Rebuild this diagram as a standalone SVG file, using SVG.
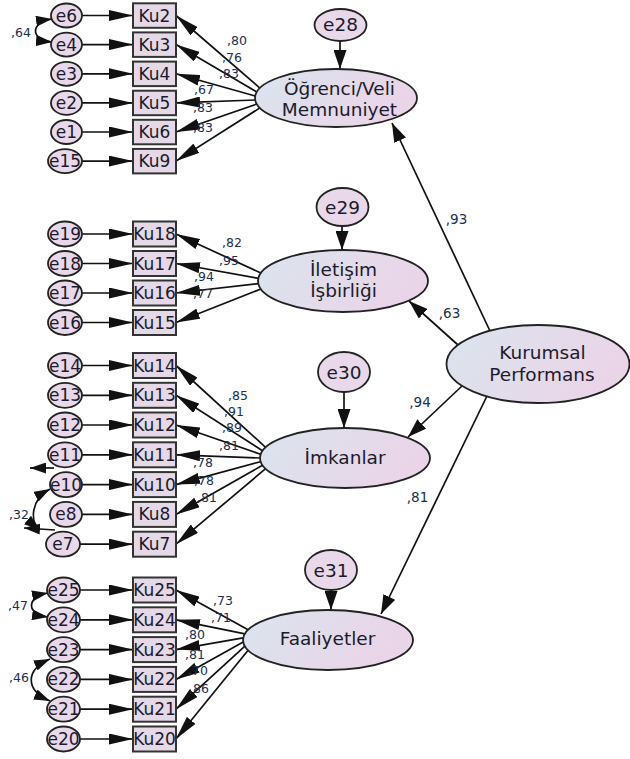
<svg xmlns="http://www.w3.org/2000/svg" width="630" height="759" viewBox="0 0 630 759">
<style>
.e{fill:#e8d8e9;stroke:#222;stroke-width:1.8}
.box{fill:#e5d9e8;stroke:#333;stroke-width:2}
.lat{fill:url(#g);stroke:#222;stroke-width:1.8}
.t{font-family:"DejaVu Sans",sans-serif;fill:#1b1b2b;text-anchor:middle}
.s17{font-size:17px}
.s18{font-size:18.5px}
.c{font-family:"DejaVu Sans",sans-serif;fill:#203050;text-anchor:middle;font-size:12.5px}
.cr{font-size:13.5px}
.ln{stroke:#111;stroke-width:1.7;fill:none}
</style>
<defs>
<linearGradient id="g" x1="0" y1="0" x2="1" y2="0.3">
<stop offset="0" stop-color="#dae5ee"/>
<stop offset="1" stop-color="#ead4e8"/>
</linearGradient>
<marker id="a" viewBox="0 0 24 11" refX="24" refY="5.5" markerWidth="24" markerHeight="11" markerUnits="userSpaceOnUse" orient="auto"><path d="M0,0 L24,5.5 L0,11 z" fill="#111"/></marker>
<marker id="b" viewBox="0 0 19 13" refX="19" refY="6.5" markerWidth="19" markerHeight="13" markerUnits="userSpaceOnUse" orient="auto"><path d="M0,0 L19,6.5 L0,13 z" fill="#111"/></marker>
<marker id="cv" viewBox="0 0 16 11" refX="16" refY="5.5" markerWidth="16" markerHeight="11" markerUnits="userSpaceOnUse" orient="auto-start-reverse"><path d="M0,0 L16,5.5 L0,11 z" fill="#111"/></marker>
</defs>
<rect width="630" height="759" fill="#fff"/>

<g id="connectors">
<g marker-end="url(#a)" class="ln">
<line x1="82" y1="15.5" x2="133" y2="15.5"/>
<line x1="82" y1="44.6" x2="133" y2="44.6"/>
<line x1="82" y1="73.8" x2="133" y2="73.8"/>
<line x1="82" y1="102.9" x2="133" y2="102.9"/>
<line x1="82" y1="132" x2="133" y2="132"/>
<line x1="82" y1="161.1" x2="133" y2="161.1"/>
<line x1="82" y1="234" x2="133" y2="234"/>
<line x1="82" y1="263.5" x2="133" y2="263.5"/>
<line x1="82" y1="293" x2="133" y2="293"/>
<line x1="82" y1="322.5" x2="133" y2="322.5"/>
<line x1="82" y1="365.5" x2="133" y2="365.5"/>
<line x1="82" y1="395.3" x2="133" y2="395.3"/>
<line x1="82" y1="425" x2="133" y2="425"/>
<line x1="82" y1="454.8" x2="133" y2="454.8"/>
<line x1="82" y1="484.6" x2="133" y2="484.6"/>
<line x1="82" y1="514.4" x2="133" y2="514.4"/>
<line x1="80" y1="544.2" x2="133" y2="544.2"/>
<line x1="80" y1="590" x2="133" y2="590"/>
<line x1="80" y1="619.8" x2="133" y2="619.8"/>
<line x1="80" y1="649.6" x2="133" y2="649.6"/>
<line x1="80" y1="679.4" x2="133" y2="679.4"/>
<line x1="80" y1="709.2" x2="133" y2="709.2"/>
<line x1="80" y1="739" x2="133" y2="739"/>
</g>
<g marker-end="url(#a)" class="ln">
<line x1="259.9" y1="88.1" x2="176" y2="15.5"/>
<line x1="256.8" y1="92" x2="176" y2="44.6"/>
<line x1="255.2" y1="96" x2="176" y2="73.8"/>
<line x1="255.2" y1="100" x2="176" y2="102.9"/>
<line x1="256.8" y1="104" x2="176" y2="132"/>
<line x1="259.9" y1="107.9" x2="176" y2="161.1"/>
<line x1="260.9" y1="273" x2="176" y2="234"/>
<line x1="258.3" y1="278.3" x2="176" y2="263.5"/>
<line x1="258.3" y1="283.7" x2="176" y2="293"/>
<line x1="260.9" y1="289" x2="176" y2="322.5"/>
<line x1="265.6" y1="447.3" x2="176" y2="365.5"/>
<line x1="262.5" y1="450.7" x2="176" y2="395.3"/>
<line x1="260.6" y1="454.3" x2="176" y2="425"/>
<line x1="260" y1="458" x2="176" y2="454.8"/>
<line x1="260.6" y1="461.7" x2="176" y2="484.6"/>
<line x1="262.5" y1="465.3" x2="176" y2="514.4"/>
<line x1="265.6" y1="468.7" x2="176" y2="544.2"/>
<line x1="248.1" y1="629.7" x2="176" y2="590"/>
<line x1="244.9" y1="633.8" x2="176" y2="619.8"/>
<line x1="243.2" y1="637.9" x2="176" y2="649.6"/>
<line x1="243.2" y1="642.1" x2="176" y2="679.4"/>
<line x1="244.9" y1="646.2" x2="176" y2="709.2"/>
<line x1="248.1" y1="650.3" x2="176" y2="739"/>
</g>
<g marker-end="url(#b)" class="ln">
<line x1="340" y1="41" x2="340" y2="69"/>
<line x1="342" y1="226" x2="342" y2="250"/>
<line x1="344" y1="392" x2="344" y2="428"/>
<line x1="331" y1="590" x2="331" y2="610"/>
<line x1="490" y1="331" x2="392" y2="123"/>
<line x1="458" y1="345" x2="409" y2="301"/>
<line x1="462" y1="386" x2="408" y2="437"/>
<line x1="487" y1="396" x2="381" y2="614"/>
</g>
<g class="ln" marker-start="url(#cv)" marker-end="url(#cv)">
<path d="M52,19 C30,22 30,40 52,42"/>
<path d="M48,593 C26,597 26,614 48,617"/>
<path d="M50,659 C25,670 25,690 50,701"/>
<path d="M50,489 C30,500 30,522 40,530"/>
</g>
<g class="ln" marker-end="url(#cv)">
<line x1="54" y1="468" x2="30" y2="468"/>
<line x1="55" y1="530" x2="24" y2="528"/>
</g>
</g>

<g id="labels">
<text class="c" x="237" y="45">,80</text>
<text class="c" x="232" y="62">,76</text>
<text class="c" x="229" y="78">,83</text>
<text class="c" x="204" y="94">,67</text>
<text class="c" x="203" y="112">,83</text>
<text class="c" x="203" y="132">,83</text>
<text class="c" x="232" y="247">,82</text>
<text class="c" x="229" y="265">,95</text>
<text class="c" x="204" y="281">,94</text>
<text class="c" x="203" y="298">,77</text>
<text class="c" x="238" y="400">,85</text>
<text class="c" x="234" y="416">,91</text>
<text class="c" x="232" y="432">,89</text>
<text class="c" x="229" y="450">,81</text>
<text class="c" x="203" y="467">,78</text>
<text class="c" x="204" y="485">,78</text>
<text class="c" x="207" y="502">,81</text>
<text class="c" x="223" y="605">,73</text>
<text class="c" x="221" y="622">,71</text>
<text class="c" x="195" y="639">,80</text>
<text class="c" x="195" y="659">,81</text>
<text class="c" x="198" y="675">,70</text>
<text class="c" x="199" y="693">,86</text>
<text class="c" x="21" y="37">,64</text>
<text class="c" x="18" y="610">,47</text>
<text class="c" x="19" y="682">,46</text>
<text class="c" x="19" y="519">,32</text>
<text class="c cr" x="456.5" y="224">,93</text>
<text class="c cr" x="449.5" y="318">,63</text>
<text class="c cr" x="420" y="407">,94</text>
<text class="c cr" x="417.5" y="502">,81</text>
</g>

<g id="e6"><ellipse class="e" cx="66.5" cy="15.5" rx="15.5" ry="12"/><text class="t s17" x="66.5" y="21.5">e6</text></g>
<g id="e4"><ellipse class="e" cx="66.5" cy="44.6" rx="15.5" ry="12"/><text class="t s17" x="66.5" y="50.6">e4</text></g>
<g id="e3"><ellipse class="e" cx="66.5" cy="73.8" rx="15.5" ry="12"/><text class="t s17" x="66.5" y="79.8">e3</text></g>
<g id="e2"><ellipse class="e" cx="66.5" cy="102.9" rx="15.5" ry="12"/><text class="t s17" x="66.5" y="108.9">e2</text></g>
<g id="e1"><ellipse class="e" cx="66.5" cy="132" rx="15.5" ry="12"/><text class="t s17" x="66.5" y="138">e1</text></g>
<g id="e15"><ellipse class="e" cx="65" cy="161.1" rx="17" ry="12"/><text class="t s17" x="65" y="167.1">e15</text></g>
<g id="e19"><ellipse class="e" cx="65" cy="234" rx="17" ry="12.5"/><text class="t s17" x="65" y="240">e19</text></g>
<g id="e18"><ellipse class="e" cx="65" cy="263.5" rx="17" ry="12.5"/><text class="t s17" x="65" y="269.5">e18</text></g>
<g id="e17"><ellipse class="e" cx="65" cy="293" rx="17" ry="12.5"/><text class="t s17" x="65" y="299">e17</text></g>
<g id="e16"><ellipse class="e" cx="65" cy="322.5" rx="17" ry="12.5"/><text class="t s17" x="65" y="328.5">e16</text></g>
<g id="e14"><ellipse class="e" cx="65" cy="365.5" rx="17" ry="12.5"/><text class="t s17" x="65" y="371.5">e14</text></g>
<g id="e13"><ellipse class="e" cx="65" cy="395.3" rx="17" ry="12.5"/><text class="t s17" x="65" y="401.3">e13</text></g>
<g id="e12"><ellipse class="e" cx="65" cy="425" rx="17" ry="12.5"/><text class="t s17" x="65" y="431">e12</text></g>
<g id="e11"><ellipse class="e" cx="65" cy="454.8" rx="17" ry="12.5"/><text class="t s17" x="65" y="460.8">e11</text></g>
<g id="e10"><ellipse class="e" cx="66" cy="484.6" rx="16" ry="12.5"/><text class="t s17" x="66" y="490.6">e10</text></g>
<g id="e8"><ellipse class="e" cx="66" cy="514.4" rx="16" ry="12.5"/><text class="t s17" x="66" y="520.4">e8</text></g>
<g id="e7"><ellipse class="e" cx="63" cy="544.2" rx="17" ry="12.5"/><text class="t s17" x="63" y="550.2">e7</text></g>
<g id="e25"><ellipse class="e" cx="63.5" cy="590" rx="16.5" ry="12.5"/><text class="t s17" x="63.5" y="596">e25</text></g>
<g id="e24"><ellipse class="e" cx="63.5" cy="619.8" rx="16.5" ry="12.5"/><text class="t s17" x="63.5" y="625.8">e24</text></g>
<g id="e23"><ellipse class="e" cx="63.5" cy="649.6" rx="16.5" ry="12.5"/><text class="t s17" x="63.5" y="655.6">e23</text></g>
<g id="e22"><ellipse class="e" cx="63.5" cy="679.4" rx="16.5" ry="12.5"/><text class="t s17" x="63.5" y="685.4">e22</text></g>
<g id="e21"><ellipse class="e" cx="63.5" cy="709.2" rx="16.5" ry="12.5"/><text class="t s17" x="63.5" y="715.2">e21</text></g>
<g id="e20"><ellipse class="e" cx="63.5" cy="739" rx="16.5" ry="12.5"/><text class="t s17" x="63.5" y="745">e20</text></g>

<g id="Ku2"><rect class="box" x="133" y="3.3" width="43" height="24.5"/><text class="t s17" x="154.5" y="21.5">Ku2</text></g>
<g id="Ku3"><rect class="box" x="133" y="32.4" width="43" height="24.5"/><text class="t s17" x="154.5" y="50.6">Ku3</text></g>
<g id="Ku4"><rect class="box" x="133" y="61.6" width="43" height="24.5"/><text class="t s17" x="154.5" y="79.8">Ku4</text></g>
<g id="Ku5"><rect class="box" x="133" y="90.7" width="43" height="24.5"/><text class="t s17" x="154.5" y="108.9">Ku5</text></g>
<g id="Ku6"><rect class="box" x="133" y="119.8" width="43" height="24.5"/><text class="t s17" x="154.5" y="138">Ku6</text></g>
<g id="Ku9"><rect class="box" x="133" y="148.9" width="43" height="24.5"/><text class="t s17" x="154.5" y="167.1">Ku9</text></g>
<g id="Ku18"><rect class="box" x="133" y="221.5" width="43" height="25"/><text class="t s17" x="154.5" y="240">Ku18</text></g>
<g id="Ku17"><rect class="box" x="133" y="251" width="43" height="25"/><text class="t s17" x="154.5" y="269.5">Ku17</text></g>
<g id="Ku16"><rect class="box" x="133" y="280.5" width="43" height="25"/><text class="t s17" x="154.5" y="299">Ku16</text></g>
<g id="Ku15"><rect class="box" x="133" y="310" width="43" height="25"/><text class="t s17" x="154.5" y="328.5">Ku15</text></g>
<g id="Ku14"><rect class="box" x="133" y="353" width="43" height="25"/><text class="t s17" x="154.5" y="371.5">Ku14</text></g>
<g id="Ku13"><rect class="box" x="133" y="382.8" width="43" height="25"/><text class="t s17" x="154.5" y="401.3">Ku13</text></g>
<g id="Ku12"><rect class="box" x="133" y="412.5" width="43" height="25"/><text class="t s17" x="154.5" y="431">Ku12</text></g>
<g id="Ku11"><rect class="box" x="133" y="442.3" width="43" height="25"/><text class="t s17" x="154.5" y="460.8">Ku11</text></g>
<g id="Ku10"><rect class="box" x="133" y="472.1" width="43" height="25"/><text class="t s17" x="154.5" y="490.6">Ku10</text></g>
<g id="Ku8"><rect class="box" x="133" y="501.9" width="43" height="25"/><text class="t s17" x="154.5" y="520.4">Ku8</text></g>
<g id="Ku7"><rect class="box" x="133" y="531.7" width="43" height="25"/><text class="t s17" x="154.5" y="550.2">Ku7</text></g>
<g id="Ku25"><rect class="box" x="133" y="577.5" width="43" height="25"/><text class="t s17" x="154.5" y="596">Ku25</text></g>
<g id="Ku24"><rect class="box" x="133" y="607.3" width="43" height="25"/><text class="t s17" x="154.5" y="625.8">Ku24</text></g>
<g id="Ku23"><rect class="box" x="133" y="637.1" width="43" height="25"/><text class="t s17" x="154.5" y="655.6">Ku23</text></g>
<g id="Ku22"><rect class="box" x="133" y="666.9" width="43" height="25"/><text class="t s17" x="154.5" y="685.4">Ku22</text></g>
<g id="Ku21"><rect class="box" x="133" y="696.7" width="43" height="25"/><text class="t s17" x="154.5" y="715.2">Ku21</text></g>
<g id="Ku20"><rect class="box" x="133" y="726.5" width="43" height="25"/><text class="t s17" x="154.5" y="745">Ku20</text></g>

<g id="e28"><ellipse class="e" cx="340.5" cy="25" rx="26" ry="16"/><text class="t s18" x="340.5" y="31">e28</text></g>
<g id="e29"><ellipse class="e" cx="342.5" cy="207" rx="26" ry="19"/><text class="t s18" x="342.5" y="213.5">e29</text></g>
<g id="e30"><ellipse class="e" cx="344" cy="372" rx="26" ry="20"/><text class="t s18" x="344" y="378.5">e30</text></g>
<g id="e31"><ellipse class="e" cx="331" cy="570" rx="26" ry="20"/><text class="t s18" x="331" y="576.5">e31</text></g>

<g id="OgrenciVeli"><ellipse class="lat" cx="336" cy="98" rx="81" ry="29"/><text class="t s18" x="339.5" y="95">Öğrenci/Veli</text><text class="t s18" x="339.5" y="116">Memnuniyet</text></g>
<g id="IletisimIsbirligi"><ellipse class="lat" cx="343" cy="281" rx="85" ry="31"/><text class="t s18" x="343.5" y="276">İletişim</text><text class="t s18" x="343.5" y="297">İşbirliği</text></g>
<g id="Imkanlar"><ellipse class="lat" cx="345" cy="458" rx="85" ry="30"/><text class="t s18" x="345" y="463.5">İmkanlar</text></g>
<g id="Faaliyetler"><ellipse class="lat" cx="328" cy="640" rx="85" ry="30"/><text class="t s18" x="327.5" y="645">Faaliyetler</text></g>
<g id="KurumsalPerformans"><ellipse class="lat" cx="538" cy="364" rx="91.5" ry="39"/><text class="t s18" x="542.5" y="359">Kurumsal</text><text class="t s18" x="542" y="381">Performans</text></g>
</svg>
